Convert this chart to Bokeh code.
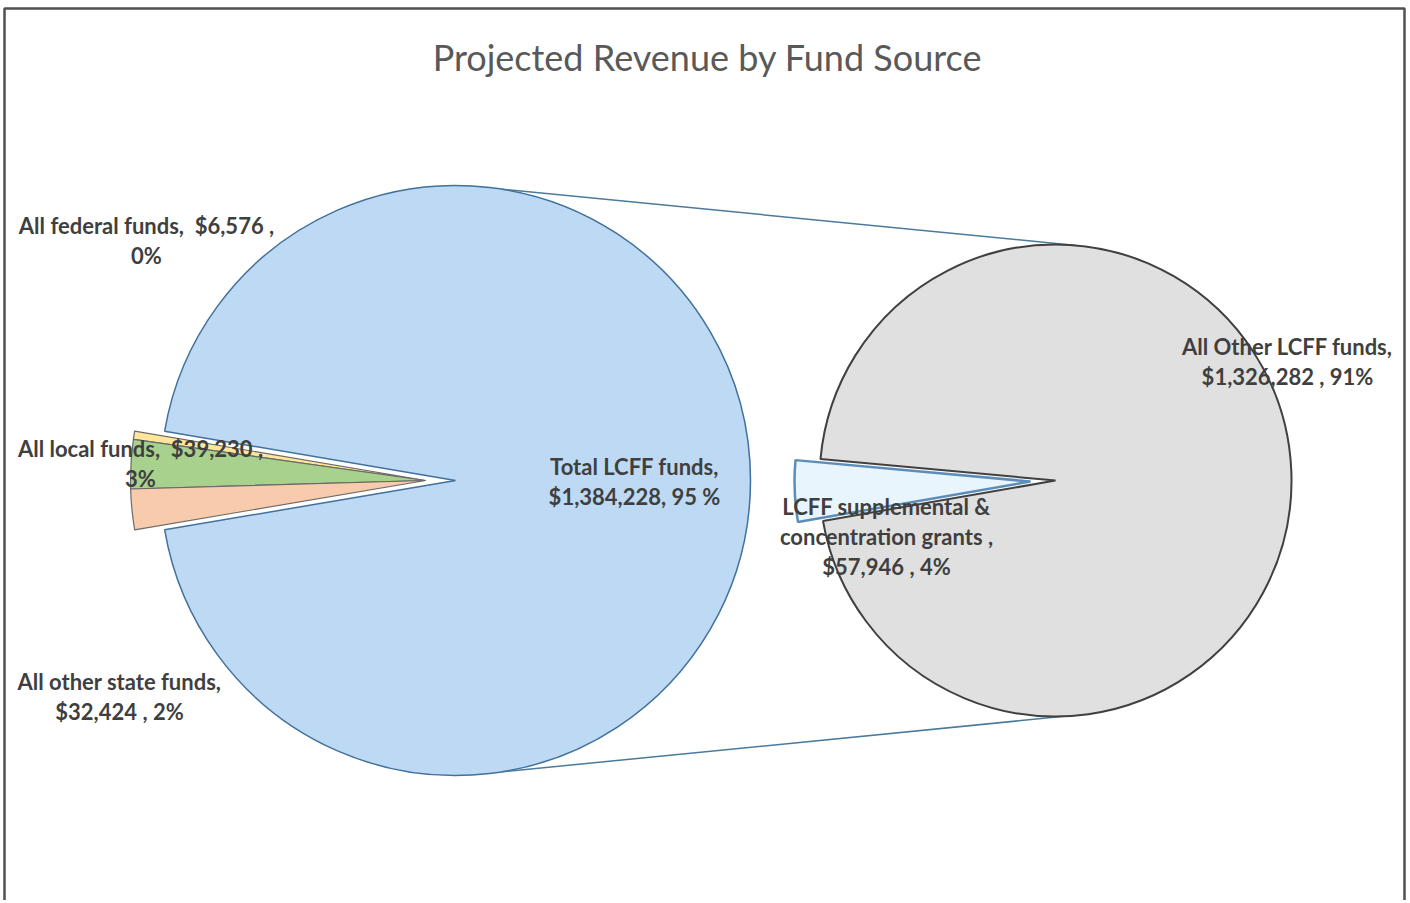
import numpy as np
from bokeh.plotting import figure
from bokeh.models import Range1d, Label, ColumnDataSource, BoxAnnotation
from bokeh.core.properties import value
from bokeh.embed import file_html
from bokeh.resources import INLINE

# ---------------- data ----------------
title = "Projected Revenue by Fund Source"
main_names = ["All federal funds", "All local funds", "All other state funds"]
main_values = [6576, 39230, 32424]
main_colors = ["#FFE699", "#A9D18E", "#F8CBAD"]
lcff_name = "Total LCFF funds"
lcff_value = 1384228
lcff_color = "#BDD9F3"
sub_names = ["LCFF supplemental & concentration grants", "All Other LCFF funds"]
sub_values = [57946, 1326282]
sub_colors = ["#E8F5FC", "#E0E0E0"]

# ---------------- layout ----------------
W, H = 1408, 900
FONT = "Lato"
TXT = "#3F3F3F"

def py(y):  # reference pixel y -> data y
    return H - y

def px(x):
    return x

total = sum(main_values) + lcff_value
def pct(v):
    return int(round(100.0 * v / total))

p = figure(width=W, height=H, x_range=Range1d(0, W), y_range=Range1d(0, H),
           output_backend="svg", toolbar_location=None, min_border=0)
p.axis.visible = False
p.grid.visible = False
p.outline_line_color = None
p.background_fill_color = "white"
p.border_fill_color = "white"

# chart border (open at the bottom, as in the scan)
p.add_layout(BoxAnnotation(left=4, right=1404, top=py(8), bottom=-50,
                           fill_color=None, fill_alpha=0, line_color="#505050",
                           line_alpha=1.0, line_width=2.5))

# ---- left pie ----
c1x, c1y, r1 = px(455), py(480), 295
small_deg = 360.0 * sum(main_values) / total
half = small_deg / 2
lcff_start = 180 + half
lcff_end = 180 - half + 360
p.wedge(x=c1x, y=c1y, radius=r1, start_angle=lcff_start, end_angle=lcff_end,
        start_angle_units="deg", end_angle_units="deg",
        fill_color=lcff_color, line_color="#41719C", line_width=1.5)

angs = np.cumsum([0] + [360.0 * v / total for v in main_values]) + (180 - half)
explode1 = 30
ms = ColumnDataSource(dict(
    x=[c1x - explode1] * len(main_values), y=[c1y] * len(main_values),
    start=list(angs[:-1]), end=list(angs[1:]), color=main_colors))
p.wedge(x="x", y="y", radius=r1, start_angle="start", end_angle="end",
        start_angle_units="deg", end_angle_units="deg", source=ms,
        fill_color="color", line_color="#6A6A6A", line_width=1.2)

# ---- right pie ----
c2x, c2y, r2 = px(1055), py(480), 236
sub_total = sum(sub_values)
sub_deg = 360.0 * sub_values[0] / sub_total
s_start = 180 - 5.2
s_end = s_start + sub_deg

# connector lines
a_top1, a_bot1 = np.deg2rad(81), np.deg2rad(-81)
a_top2, a_bot2 = np.deg2rad(85), np.deg2rad(-88)
p.line([c1x + r1 * np.cos(a_top1), c2x + r2 * np.cos(a_top2)],
       [c1y + r1 * np.sin(a_top1), c2y + r2 * np.sin(a_top2)],
       line_color="#4A7A9C", line_width=1.5)
p.line([c1x + r1 * np.cos(a_bot1), c2x + r2 * np.cos(a_bot2)],
       [c1y + r1 * np.sin(a_bot1), c2y + r2 * np.sin(a_bot2)],
       line_color="#4A7A9C", line_width=1.5)

p.wedge(x=c2x, y=c2y, radius=r2, start_angle=s_end, end_angle=s_start + 360,
        start_angle_units="deg", end_angle_units="deg",
        fill_color=sub_colors[1], line_color="#404040", line_width=2)
explode2 = 25
mid = np.deg2rad((s_start + s_end) / 2)
p.wedge(x=c2x + explode2 * np.cos(mid), y=c2y + explode2 * np.sin(mid), radius=r2,
        start_angle=s_start, end_angle=s_end,
        start_angle_units="deg", end_angle_units="deg",
        fill_color=sub_colors[0], line_color="#5B8DB8", line_width=2.5)

# ---- labels ----
def money(v):
    return f"${v:,}"

NB = "\u00a0"
label_lines = [
    [f"{main_names[0]},{NB}{NB}{money(main_values[0])}{NB},", f"{pct(main_values[0])}%"],
    [f"{main_names[1]},{NB}{NB}{money(main_values[1])}{NB},", f"{pct(main_values[1])}%"],
    [f"{main_names[2]},", f"{money(main_values[2])}{NB},{NB}{pct(main_values[2])}%"],
    [f"{lcff_name},", f"{money(lcff_value)},{NB}{pct(lcff_value)}{NB}%"],
    [f"{sub_names[1]},", f"{money(sub_values[1])}{NB},{NB}{pct(sub_values[1])}%"],
    ["LCFF supplemental &", f"concentration grants{NB},", f"{money(sub_values[0])}{NB},{NB}{pct(sub_values[0])}%"],
]
label_x = [146, 140, 119, 634, 1287, 886]
label_y0 = [225, 448, 681, 466, 346, 506]

xs, ys, ts = [], [], []
for lines, lx, ly in zip(label_lines, label_x, label_y0):
    for i, t in enumerate(lines):
        xs.append(px(lx))
        ys.append(py(ly + 30 * i))
        ts.append(t)
p.text(x=xs, y=ys, text=ts, text_font=value(FONT), text_font_size="22px",
       text_font_style="bold", text_color=TXT, text_align="center",
       text_baseline="middle")

p.add_layout(Label(x=px(707), y=py(56), text=title, text_font=FONT,
                   text_font_size="36px", text_color="#595959",
                   text_align="center", text_baseline="middle"))

open("out.html", "w").write(file_html(p, INLINE))
